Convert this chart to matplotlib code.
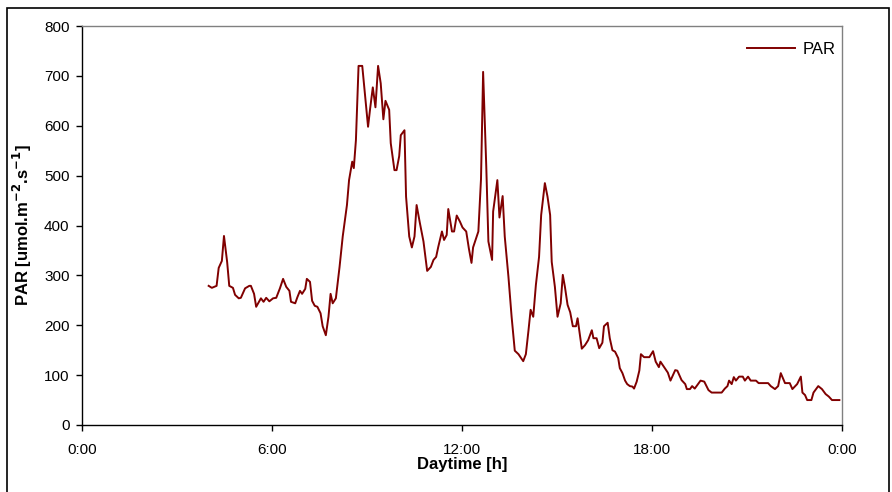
import matplotlib
matplotlib.use("Agg")
import matplotlib.pyplot as plt
from matplotlib.patches import Rectangle
from matplotlib.ticker import FuncFormatter, MultipleLocator

plt.rcParams['font.family'] = ['Liberation Sans', 'DejaVu Sans']

# time of day in minutes, PAR in umol m-2 s-1
time_min = [
    240, 246, 255, 259, 265, 269, 275, 279, 286, 290, 297, 301, 309, 317, 320,
    326, 330, 339, 344, 349, 355, 362, 368, 375, 381, 387, 393, 396, 404, 408,
    413, 417, 423, 426, 432, 436, 441, 446, 452, 456, 462, 467, 471, 475, 481,
    488, 494, 502, 506, 512, 515, 519, 524, 531, 536, 542, 546, 551, 556, 561,
    566, 571, 575, 582, 585, 592, 596, 601, 604, 611, 614, 620, 625, 630, 634,
    640, 647, 654, 661, 666, 671, 675, 682, 686, 691, 694, 701, 705, 710, 716,
    721, 728, 733, 738, 741, 748, 751, 756, 760, 766, 770, 777, 779, 787, 791,
    797, 801, 808, 814, 820, 827, 832, 836, 841, 846, 850, 855, 860, 866, 870,
    877, 882, 887, 890, 896, 901, 907, 911, 915, 920, 925, 930, 936, 939, 947,
    953, 959, 966, 969, 975, 980, 986, 989, 996, 1000, 1005, 1010, 1016, 1019,
    1024, 1029, 1033, 1038, 1043, 1046, 1051, 1056, 1059, 1065, 1075, 1082,
    1087, 1093, 1096, 1103, 1110, 1115, 1124, 1128, 1136, 1143, 1146, 1152,
    1156, 1161, 1172, 1179, 1187, 1193, 1212, 1218, 1223, 1226, 1231, 1235,
    1239, 1245, 1252, 1256, 1262, 1267, 1277, 1282, 1300, 1305, 1313, 1319,
    1324, 1332, 1341, 1346, 1355, 1362, 1365, 1370, 1374, 1382, 1386, 1395,
    1402, 1409, 1415, 1421, 1435,
]
par = [
    279, 275, 279, 315, 329, 379, 327, 279, 275, 261, 254, 255, 274, 279, 279,
    263, 237, 254, 247, 255, 248, 254, 255, 274, 293, 277, 269, 247, 244, 256,
    269, 263, 273, 293, 287, 249, 239, 237, 224, 198, 180, 217, 263, 244, 254,
    317, 378, 441, 491, 528, 515, 571, 720, 720, 665, 598, 635, 677, 637, 720,
    685, 613, 650, 632, 565, 511, 511, 539, 581, 591, 458, 378, 356, 378, 441,
    406, 368, 309, 317, 331, 337, 357, 388, 371, 381, 433, 388, 388, 420, 408,
    396, 388, 354, 325, 356, 378, 388, 493, 708, 518, 368, 331, 428, 491, 416,
    459, 378, 297, 217, 149, 142, 134, 128, 142, 190, 231, 217, 281, 337, 421,
    485, 458, 421, 327, 277, 217, 244, 301, 277, 241, 226, 198, 198, 214, 153,
    160, 170, 190, 174, 174, 154, 165, 198, 205, 174, 150, 147, 134, 114,
    104, 89, 82, 78, 77, 73, 87, 109, 142, 136, 136, 148,
    127, 116, 127, 116, 105, 89, 110, 109, 90, 82, 72, 72,
    78, 73, 89, 87, 70, 65, 65, 73, 78, 89, 82, 96,
    89, 97, 97, 89, 97, 89, 89, 84, 84, 78, 72, 78,
    104, 84, 84, 72, 82, 97, 65, 60, 50, 50, 65, 78,
    72, 62, 57, 50, 50,
]

fig = plt.figure(figsize=(8.92, 4.92), dpi=100)
ax = fig.add_axes([82 / 892, 1 - 425 / 492, 760 / 892, 399 / 492])

ax.plot(time_min, par, color='#800000', lw=1.4, label='PAR')

ax.set_xlim(0, 1440)
ax.set_ylim(0, 800)
ax.xaxis.set_major_locator(MultipleLocator(360))
ax.yaxis.set_major_locator(MultipleLocator(100))
ax.xaxis.set_major_formatter(FuncFormatter(lambda v, p: f"{int(v // 60) % 24}:00"))
ax.tick_params(axis='both', labelsize=11, length=4, width=1, color='black')
ax.tick_params(axis='y', pad=5)
ax.tick_params(axis='x', pad=9)

for s in ('left', 'bottom'):
    ax.spines[s].set_color('black')
    ax.spines[s].set_linewidth(1)
for s in ('top', 'right'):
    ax.spines[s].set_color('#808080')
    ax.spines[s].set_linewidth(1)

ax.set_xlabel('Daytime [h]', fontsize=12, fontweight='bold', labelpad=0)
ax.set_ylabel('PAR [umol.m$^{\\mathbf{-2}}$.s$^{\\mathbf{-1}}$]', fontsize=12,
              fontweight='bold', labelpad=7)

ax.legend(loc='center right', bbox_to_anchor=(0.991, 0.942), frameon=False,
          fontsize=12, handlelength=2.9, handletextpad=0.4,
          borderaxespad=0, borderpad=0)

# outer frame of the original chart object
fig.patches.append(Rectangle((7 / 892, -2 / 492), 882 / 892, 486 / 492,
                             transform=fig.transFigure, fill=False,
                             edgecolor='black', lw=1.2))

fig.savefig('out.png', dpi=100)
